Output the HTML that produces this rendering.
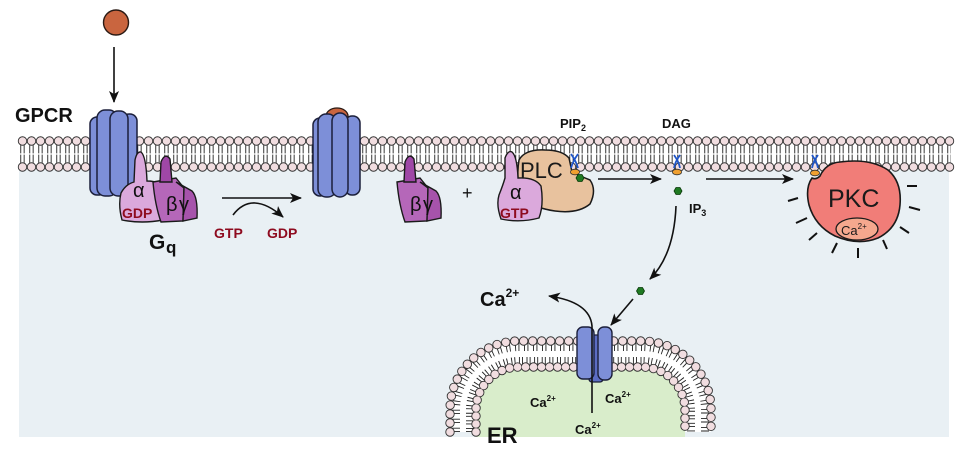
<!DOCTYPE html>
<html><head><meta charset="utf-8"><style>
html,body{margin:0;padding:0;background:#fff;}
svg{display:block;}
text{font-family:"Liberation Sans",Arial,sans-serif;}
</style></head><body>
<svg width="960" height="452" viewBox="0 0 960 452" xmlns="http://www.w3.org/2000/svg">
<defs>
<marker id="ah" markerUnits="userSpaceOnUse" markerWidth="13" markerHeight="10" refX="11" refY="5" orient="auto">
<path d="M0,0 L12,5 L0,10 L3,5 Z" fill="#111"/>
</marker>
</defs>

<!-- cytoplasm background -->
<rect x="19" y="160" width="930" height="277" fill="#e9f0f4"/>

<!-- ER lumen -->
<path d="M476 437 V410 A43 43 0 0 1 519 367 H642 A43 43 0 0 1 685 410 V437 Z" fill="#d9edcb"/>
<!-- ER membrane -->
<path d="M463 432 V410 A56 56 0 0 1 519 354 H642 A56 56 0 0 1 698 410 V432" fill="none" stroke="#fff" stroke-width="26"/>
<path d="M456 432 V410 A63 63 0 0 1 519 347 H642 A63 63 0 0 1 705 410 V432" fill="none" stroke="#222" stroke-width="8" stroke-dasharray="0.9 2.5 0.9 4.7"/>
<path d="M470 432 V410 A49 49 0 0 1 519 361 H642 A49 49 0 0 1 691 410 V432" fill="none" stroke="#222" stroke-width="8" stroke-dasharray="0.9 2.2 0.9 3.6"/>
<path d="M450 432 V410 A69 69 0 0 1 519 341 H642 A69 69 0 0 1 711 410 V432" fill="none" stroke="#333" stroke-width="9.4" stroke-linecap="round" stroke-dasharray="0 9"/>
<path d="M450 432 V410 A69 69 0 0 1 519 341 H642 A69 69 0 0 1 711 410 V432" fill="none" stroke="#f1dde0" stroke-width="7.6" stroke-linecap="round" stroke-dasharray="0 9"/>
<path d="M476 432 V410 A43 43 0 0 1 519 367 H642 A43 43 0 0 1 685 410 V432" fill="none" stroke="#333" stroke-width="9.4" stroke-linecap="round" stroke-dasharray="0 8"/>
<path d="M476 432 V410 A43 43 0 0 1 519 367 H642 A43 43 0 0 1 685 410 V432" fill="none" stroke="#f1dde0" stroke-width="7.6" stroke-linecap="round" stroke-dasharray="0 8"/>

<!-- plasma membrane -->
<path d="M18 154 H951" stroke="#fff" stroke-width="26"/>
<path d="M20.3 149.2 H951" stroke="#222" stroke-width="8.4" stroke-dasharray="0.9 2.5 0.9 4.7"/>
<path d="M20.3 158.8 H951" stroke="#222" stroke-width="8.4" stroke-dasharray="0.9 2.5 0.9 4.7"/>
<path d="M22.5 141 H951" stroke="#333" stroke-width="9.4" stroke-linecap="round" stroke-dasharray="0 9"/>
<path d="M22.5 141 H951" stroke="#f1dde0" stroke-width="7.6" stroke-linecap="round" stroke-dasharray="0 9"/>
<path d="M22.5 167 H951" stroke="#333" stroke-width="9.4" stroke-linecap="round" stroke-dasharray="0 9"/>
<path d="M22.5 167 H951" stroke="#f1dde0" stroke-width="7.6" stroke-linecap="round" stroke-dasharray="0 9"/>

<!-- ligand + arrow -->
<circle cx="116" cy="22.5" r="12.5" fill="#c9653f" stroke="#2a1a14" stroke-width="1.4"/>
<line x1="114" y1="47" x2="114" y2="102" stroke="#111" stroke-width="1.6" marker-end="url(#ah)"/>
<text x="15" y="122" font-size="20" font-weight="bold" fill="#111">GPCR</text>

<!-- GPCR 1 -->
<g fill="#7d8fd8" stroke="#1b1f3a" stroke-width="1.5">
<rect x="122" y="114" width="15" height="79" rx="7"/>
<rect x="90" y="117" width="16" height="78" rx="7"/>
<rect x="97" y="110" width="20" height="86" rx="8"/>
<rect x="110" y="111" width="18" height="85" rx="8"/>
</g>

<!-- Gq alpha (in front of GPCR) -->
<path d="M135 160 Q137 151 141 152 Q146 156 147 181 Q161 181 164 190 Q166 208 163 220 Q142 224 122 220 Q118 205 121 193 Q126 184 134 182 Z" fill="#dba9dc" stroke="#1a1a1a" stroke-width="1.4"/>

<!-- Gq beta gamma -->
<g id="bg">
<path d="M153 182 L176 178 L184 188 L183 221 L161 222 Q155 205 153 182 Z" fill="#b567b9" stroke="#1a1a1a" stroke-width="1.4"/>
<path d="M160 182 L161 162 Q165 152 170 159 L172 182 Z" fill="#9f47a6" stroke="#1a1a1a" stroke-width="1.4"/>
<path d="M176 182 L192 191 Q198 197 197 218 L183 221 L184 188 Z" fill="#a653ab" stroke="#1a1a1a" stroke-width="1.4"/>
</g>
<text x="133" y="197" font-size="20" fill="#111">α</text>
<text x="122" y="218" font-size="14" font-weight="bold" fill="#8e0b1f">GDP</text>
<text x="166" y="211" font-size="20" fill="#111">β</text>
<text x="179" y="211" font-size="20" fill="#111">γ</text>
<text x="149" y="249" font-size="21" font-weight="bold" fill="#111">G</text>
<text x="166" y="253" font-size="17" font-weight="bold" fill="#111">q</text>

<!-- exchange arrows -->
<line x1="222" y1="198" x2="301" y2="198" stroke="#111" stroke-width="1.6" marker-end="url(#ah)"/>
<path d="M233 215 Q252 190 283 217" fill="none" stroke="#111" stroke-width="1.6" marker-end="url(#ah)"/>
<text x="214" y="238" font-size="14" font-weight="bold" fill="#8e0b1f">GTP</text>
<text x="267" y="238" font-size="14" font-weight="bold" fill="#8e0b1f">GDP</text>

<!-- GPCR 2 -->
<g fill="#7d8fd8" stroke="#1b1f3a" stroke-width="1.5">
<rect x="345" y="116" width="15" height="79" rx="7"/>
<rect x="313" y="118" width="14" height="78" rx="7"/>
</g>
<ellipse cx="337" cy="116" rx="11" ry="8" fill="#c9653f" stroke="#2a1a14" stroke-width="1.3"/>
<g fill="#7d8fd8" stroke="#1b1f3a" stroke-width="1.5">
<rect x="318" y="114" width="18" height="83" rx="8"/>
<rect x="332" y="113" width="16" height="84" rx="8"/>
</g>

<!-- free beta gamma -->
<use href="#bg" transform="translate(244,0)"/>
<text x="410" y="211" font-size="20" fill="#111">β</text>
<text x="423" y="211" font-size="20" fill="#111">γ</text>
<text x="462" y="199" font-size="18" fill="#111">+</text>

<!-- PLC -->
<path d="M519 160 Q525 149 545 150 Q562 150 569 158 L572 172 Q580 176 590 180 Q597 190 590 204 Q578 214 555 211 Q535 208 525 200 Q515 185 519 160 Z" fill="#e8c29e" stroke="#1a1a1a" stroke-width="1.5"/>
<text x="520" y="178" font-size="22" fill="#1a1a1a">PLC</text>

<!-- alpha GTP -->
<path d="M505 158 Q508 150 512 152 Q517 156 518 178 Q535 177 541 186 Q544 205 539 218 Q520 223 501 219 Q496 205 499 195 Q503 185 505 178 Z" fill="#dba9dc" stroke="#1a1a1a" stroke-width="1.4"/>
<text x="510" y="199" font-size="20" fill="#111">α</text>
<text x="500" y="218" font-size="14" font-weight="bold" fill="#8e0b1f">GTP</text>

<!-- PIP2 -->
<text x="560" y="128" font-size="13" font-weight="bold" fill="#111">PIP<tspan font-size="9" dy="3">2</tspan></text>
<g stroke="#1f55c8" stroke-width="1.8" fill="none">
<path d="M571 154 Q576 161 578 168"/><path d="M578 154 Q573 161 571 168"/>
<path d="M674 155 Q679 162 680 168"/><path d="M680 155 Q675 162 674 168"/>
<path d="M812 155 Q817 162 818 168"/><path d="M818 155 Q813 162 812 168"/>
</g>
<ellipse cx="575" cy="172" rx="4.6" ry="2.8" fill="#f0a030" stroke="#333" stroke-width="0.8"/>
<polygon points="584,178 582,181.5 578,181.5 576,178 578,174.5 582,174.5" fill="#1f7a22" stroke="#0a3a0a" stroke-width="0.8"/>

<!-- arrows -->
<line x1="598" y1="179" x2="661" y2="179" stroke="#111" stroke-width="1.6" marker-end="url(#ah)"/>
<line x1="706" y1="179" x2="793" y2="179" stroke="#111" stroke-width="1.6" marker-end="url(#ah)"/>

<!-- DAG -->
<text x="662" y="128" font-size="13" font-weight="bold" fill="#111">DAG</text>
<ellipse cx="677" cy="172" rx="4.6" ry="2.8" fill="#f0a030" stroke="#333" stroke-width="0.8"/>
<polygon points="682,191 680,194.5 676,194.5 674,191 676,187.5 680,187.5" fill="#1f7a22" stroke="#0a3a0a" stroke-width="0.8"/>
<text x="689" y="213" font-size="13" font-weight="bold" fill="#111">IP<tspan font-size="9" dy="3">3</tspan></text>
<path d="M676 206 Q674 255 650 279" fill="none" stroke="#111" stroke-width="1.6" marker-end="url(#ah)"/>
<polygon points="644.5,291 642.5,294.5 638.5,294.5 636.5,291 638.5,287.5 642.5,287.5" fill="#1f7a22" stroke="#0a3a0a" stroke-width="0.8"/>
<line x1="633" y1="299" x2="611" y2="325" stroke="#111" stroke-width="1.6" marker-end="url(#ah)"/>

<!-- PKC -->
<path d="M820 176 Q826 163 840 162 Q870 158 888 170 Q902 182 900 205 Q898 228 878 238 Q858 246 835 236 Q815 226 809 205 Q805 188 812 178 Q816 180 820 176 Z" fill="#f17d78" stroke="#1a1a1a" stroke-width="1.6"/>
<ellipse cx="815" cy="173" rx="4.6" ry="2.8" fill="#f0a030" stroke="#333" stroke-width="0.8"/>
<text x="828" y="207" font-size="25" fill="#1a1a1a">PKC</text>
<ellipse cx="857" cy="229" rx="21" ry="11" fill="#f5a88e" stroke="#1a1a1a" stroke-width="1.3"/>
<text x="841" y="235" font-size="13" fill="#1a1a1a">Ca<tspan font-size="8" dy="-6">2+</tspan></text>
<g stroke="#111" stroke-width="2">
<line x1="907" y1="186" x2="917" y2="186"/>
<line x1="909" y1="207" x2="920" y2="210"/>
<line x1="900" y1="227" x2="909" y2="233"/>
<line x1="883" y1="240" x2="887" y2="249"/>
<line x1="858" y1="248" x2="858" y2="258"/>
<line x1="837" y1="243" x2="832" y2="253"/>
<line x1="817" y1="233" x2="809" y2="240"/>
<line x1="807" y1="218" x2="796" y2="223"/>
<line x1="798" y1="198" x2="788" y2="201"/>
</g>

<!-- IP3 receptor channel -->
<rect x="589" y="335" width="14" height="47" rx="3" fill="#5b6cc2" stroke="#1b1f3a" stroke-width="1.3"/>
<rect x="577" y="327" width="17" height="52" rx="6" fill="#7d8fd8" stroke="#1b1f3a" stroke-width="1.4"/>
<rect x="598" y="327" width="14" height="53" rx="6" fill="#7d8fd8" stroke="#1b1f3a" stroke-width="1.4"/>
<path d="M592 413 L592 326 Q590 302 549 296" fill="none" stroke="#111" stroke-width="1.6" marker-end="url(#ah)"/>

<text x="480" y="306" font-size="20" font-weight="bold" fill="#111">Ca<tspan font-size="12" dy="-9">2+</tspan></text>
<text x="530" y="407" font-size="13" font-weight="bold" fill="#111">Ca<tspan font-size="8" dy="-6">2+</tspan></text>
<text x="605" y="403" font-size="13" font-weight="bold" fill="#111">Ca<tspan font-size="8" dy="-6">2+</tspan></text>
<text x="575" y="434" font-size="13" font-weight="bold" fill="#111">Ca<tspan font-size="8" dy="-6">2+</tspan></text>
<text x="487" y="443" font-size="22" font-weight="bold" fill="#111">ER</text>
</svg>
</body></html>
